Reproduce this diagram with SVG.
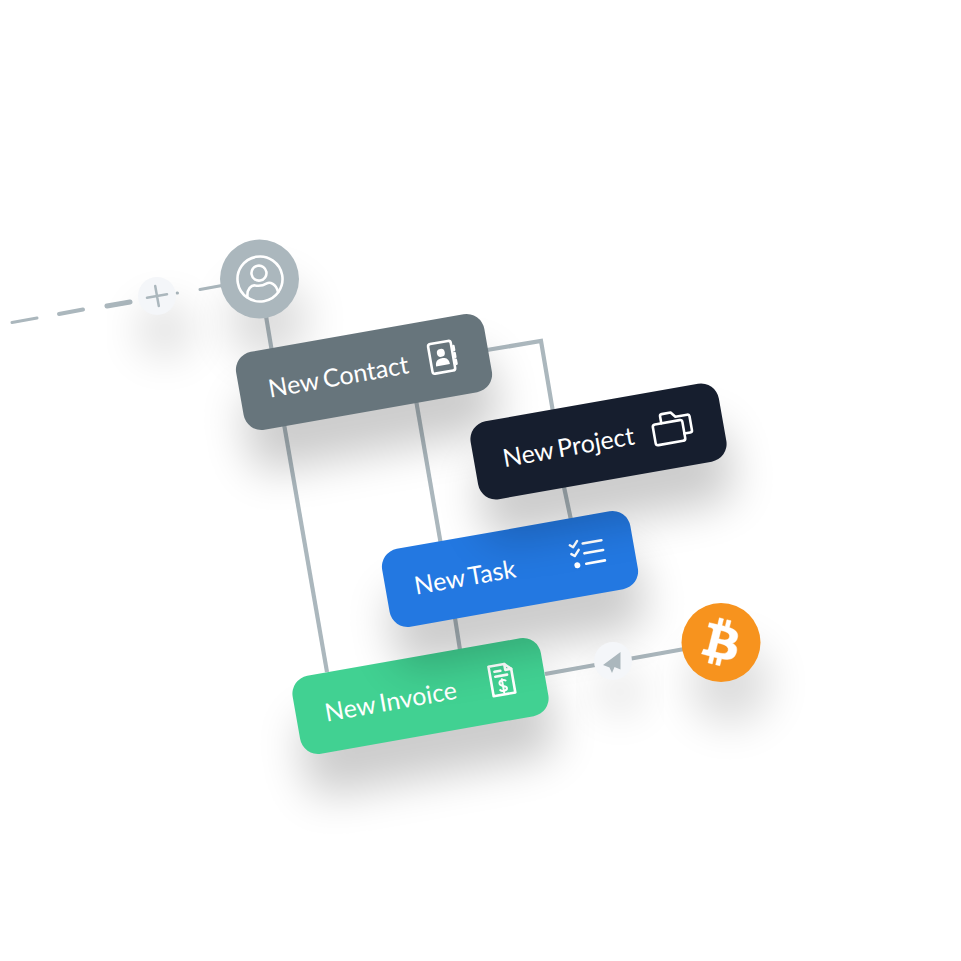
<svg xmlns="http://www.w3.org/2000/svg" width="961" height="961" viewBox="0 0 961 961">
<style>
.ln{fill:none;stroke:#abb7bd;stroke-width:4.2}
.dash{fill:none;stroke:#abb7bd;stroke-linecap:round}
.sh{fill:#000;opacity:.2;filter:url(#blur)}
.csh{fill:#000;opacity:.14;filter:url(#blur)}
.lbl{font-family:Lato,"Liberation Sans",sans-serif;font-size:25px;fill:#fff;word-spacing:-2px}
.ic{fill:none;stroke:#fff;stroke-width:2.6;stroke-linecap:round;stroke-linejoin:round}
.icf{fill:#fff}
.soft{fill:#f4f6f9}
</style>
<defs>
<filter id="blur" x="-60%" y="-100%" width="220%" height="300%"><feGaussianBlur stdDeviation="22"/></filter>
<rect id="shape" x="-126" y="-39.500" width="252" height="79" rx="18"/>
</defs>
<rect width="961" height="961" fill="#fff"/>
<g id="connectors">
<path class="ln" d="M266 316L272 352"/>
<path class="ln" d="M487 350L541 341L553 412"/>
<path class="ln" d="M416 400L441 545"/>
<path class="ln" d="M284 424L327 672"/>
<path class="ln" d="M564 487L571 520"/>
<path class="ln" d="M455 618L460 650"/>
<path class="ln" d="M545 674L690 648"/>
<path class="dash" stroke-width="3" d="M12 322.500L37 318"/>
<path class="dash" stroke-width="4" d="M59 314L83 309.500"/>
<path class="dash" stroke-width="5" d="M107 306L130 302"/>
<path class="dash" stroke-width="3" d="M177 293L177.500 293"/>
<path class="dash" stroke-width="3" d="M200 289.500L222 285.500"/>
</g>
<g id="node-bitcoin">
<circle class="csh" cx="730" cy="684" r="40"/>
<circle cx="721" cy="642.500" r="39.500" fill="#f7931e"/>
<path transform="translate(721 642.500) scale(3.15) translate(-12 -12)" class="icf" fill-rule="evenodd" stroke="#fff" stroke-width=".15" d="M17.288 10.291c.24-1.59-.974-2.45-2.64-3.03l.54-2.153-1.315-.33-.525 2.107c-.345-.087-.705-.167-1.064-.25l.526-2.127-1.32-.33-.54 2.165c-.285-.067-.565-.132-.84-.2l-1.815-.45-.35 1.407s.975.225.955.236c.535.136.63.486.615.766l-1.477 5.92c-.075.166-.24.406-.614.314.015.02-.96-.24-.96-.24l-.66 1.51 1.71.426.93.242-.54 2.19 1.32.327.54-2.17c.36.1.705.19 1.05.273l-.51 2.154 1.32.33.545-2.19c2.24.427 3.93.257 4.64-1.774.57-1.637-.03-2.58-1.217-3.196.854-.193 1.5-.76 1.68-1.93h.01zm-3.01 4.22c-.404 1.64-3.157.75-4.05.53l.72-2.9c.896.23 3.757.67 3.33 2.37zm.41-4.24c-.37 1.49-2.662.735-3.405.55l.654-2.64c.744.18 3.137.524 2.75 2.084v.006z"/>
</g>
<g id="node-user">
<circle class="csh" cx="268" cy="320" r="40"/>
<circle cx="259.500" cy="279" r="39.500" fill="#abb7bd"/>
<g transform="translate(260 279) rotate(-10)" class="ic">
<circle r="22.500"/>
<circle cx="0" cy="-6" r="7.500"/>
<path d="M-15.500 16C-15 7 -9 4.500 -6 5.500C-2 7 2 7 6 5.500C9 4.500 15 7 15.500 16"/>
</g>
</g>
<g id="node-invoice" transform="translate(420.500 696) rotate(-10)">
<use href="#shape" class="sh" transform="translate(0 42)"/>
<use href="#shape" fill="#41d192"/>
<text class="lbl" x="-97" y="9">New Invoice</text>
<g class="ic" transform="translate(83 -2)">
<path d="M-11 -15H5L11 -9V15H-11Z"/>
<path d="M5 -15V-9H11M-6 -9H0M-6 -4H6"/>
<path d="M3.500 1.500C2 0 -3 0 -3 3.500C-3 7 3.500 6 3.500 9C3.500 12 -2 12 -3.500 10M0 -.5V13" stroke-width="2"/>
</g>
</g>
<g id="node-task" transform="translate(510 569) rotate(-10)">
<use href="#shape" class="sh" transform="translate(0 42)"/>
<use href="#shape" fill="#2378e1"/>
<text class="lbl" x="-97" y="9">New Task</text>
<g class="ic" transform="translate(79 -1)">
<path d="M-16 -12L-13 -9.500L-8 -15M-16 -3L-13 -.5L-8 -6" stroke-width="2.400"/>
<path d="M-3 -11.500H16M-3 -1.500H16M-3 9H16"/>
<circle class="icf" cx="-12" cy="9" r="3" stroke="none"/>
</g>
</g>
<g id="node-contact" transform="translate(364 372) rotate(-10)">
<use href="#shape" class="sh" transform="translate(0 42)"/>
<use href="#shape" fill="#67757c"/>
<text class="lbl" x="-97" y="9">New Contact</text>
<g class="ic" transform="translate(79 -1)">
<rect x="-11.500" y="-15" width="23" height="30" rx="2.500"/>
<path d="M13.500 -9V-5M13.500 -2V2M13.500 5V9"/>
<circle class="icf" cx="0" cy="-4.500" r="4" stroke="none"/>
<path class="icf" stroke="none" d="M-7 8C-7 2 -3 1 0 1C3 1 7 2 7 8Z"/>
</g>
</g>
<g id="node-project" transform="translate(598.500 441.500) rotate(-10)">
<use href="#shape" class="sh" transform="translate(0 42)"/>
<use href="#shape" fill="#161e2e"/>
<text class="lbl" x="-97" y="9">New Project</text>
<g class="ic" transform="translate(75 -1)">
<path d="M-10 -6V-13Q-10 -15 -8 -15H1L5 -10H17Q19 -10 19 -8V6Q19 8 17 8H11"/>
<rect x="-19" y="-6" width="30" height="21" rx="2.500"/>
</g>
</g>
<g id="node-send">
<circle class="csh" cx="620" cy="692" r="20"/>
<circle class="soft" cx="613" cy="661" r="19"/>
<path d="M620.500 652L603 665L609.500 667.500L612 673L614.500 667L620.500 669.500Z" fill="#abb7bd"/>
</g>
<g id="node-add">
<circle class="csh" cx="165" cy="330" r="26"/>
<circle class="soft" cx="157" cy="296" r="19"/>
<path d="M147 297.800L167 294.200M155.200 286L158.800 306" fill="none" stroke="#abb7bd" stroke-width="2.500" stroke-linecap="round"/>
</g>
</svg>
